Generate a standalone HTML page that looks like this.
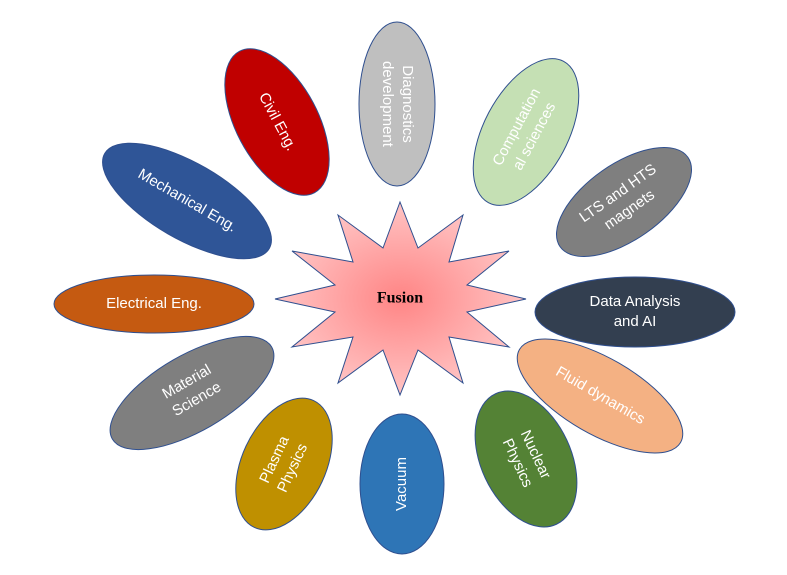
<!DOCTYPE html><html><head><style>body{margin:0;background:#fff}svg{display:block}text{font-family:"Liberation Sans",sans-serif;fill:#fff;font-size:15px;text-anchor:middle;dominant-baseline:middle}</style></head><body>
<svg width="787" height="575" viewBox="0 0 787 575">
<defs><radialGradient id="g" cx="50%" cy="50%" r="50%"><stop offset="0" stop-color="#ff8585"/><stop offset="1" stop-color="#ffc4c4"/></radialGradient></defs>
<g stroke="#2f4f8f" stroke-width="1">
<ellipse cx="397" cy="104" rx="38" ry="82" fill="#bfbfbf"/>
<ellipse cx="277" cy="122" rx="41" ry="80" fill="#c00000" transform="rotate(-28 277 122)"/>
<ellipse cx="526" cy="132" rx="42" ry="80" fill="#c5e0b4" transform="rotate(28 526 132)"/>
<ellipse cx="624" cy="202" rx="78" ry="38" fill="#7f7f7f" transform="rotate(-35 624 202)"/>
<ellipse cx="187" cy="201" rx="95" ry="38" fill="#2f5597" transform="rotate(30 187 201)"/>
<ellipse cx="154" cy="304" rx="100" ry="29" fill="#c55a11"/>
<ellipse cx="635" cy="312" rx="100" ry="35" fill="#333f50"/>
<ellipse cx="192" cy="393" rx="92" ry="38" fill="#7f7f7f" transform="rotate(-30 192 393)"/>
<ellipse cx="600" cy="396" rx="93" ry="38" fill="#f4b183" transform="rotate(30 600 396)"/>
<ellipse cx="284" cy="464" rx="42" ry="70" fill="#bf9000" transform="rotate(25 284 464)"/>
<ellipse cx="402" cy="484" rx="42" ry="70" fill="#2e75b6"/>
<ellipse cx="526" cy="459" rx="45" ry="72" fill="#548235" transform="rotate(-25 526 459)"/>
<polygon fill="url(#g)" points="400,202 418,248 463,215 449,262 509,251 467,285 526,299 467,312 509,347 449,337 463,383 418,350 400,395 383,350 338,383 353,337 292,347 335,312 275,299 335,285 292,251 353,262 338,215 383,248"/>
</g>
<text x="400" y="299" style="font-family:'Liberation Serif',serif;font-weight:bold;fill:#000;font-size:16px">Fusion</text>
<g transform="translate(397,104) rotate(90)"><text y="-10">Diagnostics</text><text y="10">development</text></g>
<text transform="translate(277,122) rotate(62)">Civil Eng.</text>
<g transform="translate(526,132) rotate(-62)"><text y="-10">Computation</text><text y="10">al sciences</text></g>
<g transform="translate(624,202) rotate(-35)"><text y="-10">LTS and HTS</text><text y="10">magnets</text></g>
<text transform="translate(187,201) rotate(30)">Mechanical Eng.</text>
<text x="154" y="304">Electrical Eng.</text>
<text x="635" y="302">Data Analysis</text><text x="635" y="322">and AI</text>
<g transform="translate(192,391) rotate(-30)"><text y="-10">Material</text><text y="10">Science</text></g>
<text transform="translate(600,396) rotate(30)">Fluid dynamics</text>
<g transform="translate(284,464) rotate(-65)"><text y="-10">Plasma</text><text y="10">Physics</text></g>
<text transform="translate(402,484) rotate(-90)">Vacuum</text>
<g transform="translate(526,459) rotate(65)"><text y="-10">Nuclear</text><text y="10">Physics</text></g>
</svg></body></html>
